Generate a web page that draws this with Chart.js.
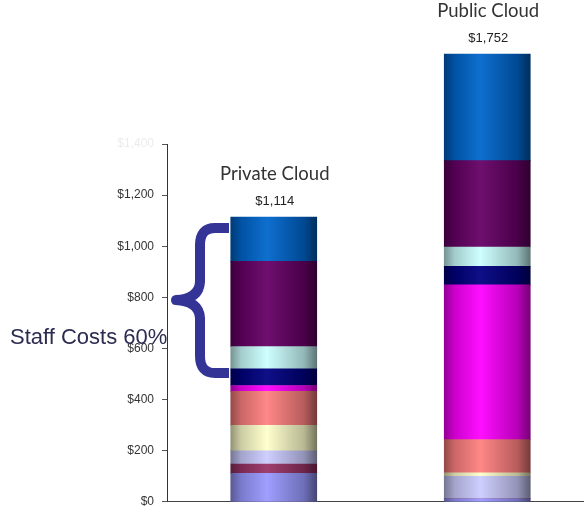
<!DOCTYPE html>
<html>
<head>
<meta charset="utf-8">
<script src="https://cdn.jsdelivr.net/npm/chart.js@4.4.1/dist/chart.umd.min.js"></script>
<style>
  html, body { margin: 0; padding: 0; background: #ffffff; overflow: hidden; }
  #wrap { width: 594px; height: 510px; overflow: hidden; }
</style>
</head>
<body>
<div id="wrap"><canvas id="c" width="594" height="517"></canvas></div>
<script>
// Cost categories per deployment model ($ per unit), stacked bottom to top
const categories = ['Private Cloud', 'Public Cloud'];

const seriesNames = [
  'Component 1', 'Component 2', 'Component 3', 'Component 4', 'Component 5',
  'Component 6', 'Staff 1', 'Staff 2', 'Staff 3', 'Staff 4'
];
const s1  = [111, 12];
const s2  = [37, 0];
const s3  = [51, 88];
const s4  = [100, 13];
const s5  = [133, 130];
const s6  = [23, 606];
const s7  = [65, 72];
const s8  = [87, 76];
const s9  = [334, 338];
const s10 = [173, 417];
const seriesValues = [s1, s2, s3, s4, s5, s6, s7, s8, s9, s10];

const seriesColors = [
  '#9999FF', '#993366', '#CCCCFF', '#FFFFCC', '#FF8080',
  '#FF00FF', '#000080', '#CCFFFF', '#660066', '#0066CC'
];

const yTicks = [0, 200, 400, 600, 800, 1000, 1200, 1400];

const BAR_W = 86;

function hexToRgb(h) {
  const n = parseInt(h.slice(1), 16);
  return [(n >> 16) & 255, (n >> 8) & 255, n & 255];
}
function shade(h, f) {
  const [r, g, b] = hexToRgb(h);
  return `rgb(${Math.round(r * f)},${Math.round(g * f)},${Math.round(b * f)})`;
}
function lift(h, f) {
  const [r, g, b] = hexToRgb(h);
  const m = v => Math.round(v + (255 - v) * f);
  return `rgb(${m(r)},${m(g)},${m(b)})`;
}

// cylinder-like horizontal shading for each bar segment
const gradCache = {};
function barFill(ctx) {
  const chart = ctx.chart;
  const base = seriesColors[ctx.datasetIndex];
  if (!chart.chartArea) return base;
  const cx = chart.scales.x.getPixelForValue(ctx.dataIndex);
  const key = ctx.datasetIndex + '_' + ctx.dataIndex + '_' + cx;
  if (gradCache[key]) return gradCache[key];
  const g = chart.ctx.createLinearGradient(cx - BAR_W / 2, 0, cx + BAR_W / 2, 0);
  g.addColorStop(0, shade(base, 0.58));
  g.addColorStop(0.12, shade(base, 0.8));
  g.addColorStop(0.42, lift(base, 0.06));
  g.addColorStop(0.85, shade(base, 0.72));
  g.addColorStop(1, shade(base, 0.46));
  gradCache[key] = g;
  return g;
}

const datasets = seriesValues.map((vals, i) => ({
  label: seriesNames[i],
  data: vals,
  backgroundColor: barFill,
  borderWidth: 0,
  barThickness: BAR_W,
  clip: false
}));

const money = v => '$' + v.toLocaleString('en-US');

// totals and category names above each stack
const stackLabels = {
  id: 'stackLabels',
  afterDatasetsDraw(chart) {
    const { ctx } = chart;
    const ys = chart.scales.y, xs = chart.scales.x;
    ctx.save();
    ctx.textAlign = 'center';
    ctx.textBaseline = 'middle';
    categories.forEach((name, i) => {
      const total = seriesValues.reduce((s, arr) => s + arr[i], 0);
      const top = ys.getPixelForValue(total);
      const x = xs.getPixelForValue(i);
      ctx.fillStyle = '#222222';
      ctx.font = '13px "Liberation Sans", Arial, sans-serif';
      ctx.fillText(money(total), x + 1, top - 16);
      ctx.fillStyle = '#333333';
      ctx.font = '18.5px Lato, "Open Sans", sans-serif';
      ctx.fillText(name, x + 1, top - 43);
    });
    ctx.restore();
  }
};

// brace and caption marking the staff cost share
const staffNote = {
  id: 'staffNote',
  afterDraw(chart) {
    const { ctx } = chart;
    ctx.save();
    ctx.strokeStyle = '#343497';
    ctx.lineWidth = 10;
    ctx.lineCap = 'butt';
    ctx.lineJoin = 'round';
    ctx.beginPath();
    ctx.moveTo(229, 228);
    ctx.lineTo(215, 228);
    ctx.quadraticCurveTo(200, 228, 200, 245);
    ctx.lineTo(200, 282);
    ctx.quadraticCurveTo(199, 299, 176, 300);
    ctx.quadraticCurveTo(199, 301, 200, 318);
    ctx.lineTo(200, 356);
    ctx.quadraticCurveTo(200, 373, 215, 373);
    ctx.lineTo(229, 373);
    ctx.stroke();
    ctx.fillStyle = '#2c2c52';
    ctx.font = '22px "Liberation Sans", Arial, sans-serif';
    ctx.textAlign = 'left';
    ctx.textBaseline = 'middle';
    ctx.fillText('Staff Costs 60%', 10, 338);
    ctx.restore();
  }
};

new Chart(document.getElementById('c'), {
  type: 'bar',
  data: { labels: categories, datasets },
  options: {
    responsive: false,
    animation: false,
    devicePixelRatio: 1,
    layout: { padding: { top: 144, left: 0, right: 0, bottom: 0 } },
    plugins: {
      legend: { display: false },
      tooltip: { enabled: false },
      title: { display: false }
    },
    scales: {
      x: {
        stacked: true,
        ticks: { display: false },
        grid: { display: false, drawTicks: false },
        border: { display: true, color: '#444444', width: 1 },
        afterFit(scale) { scale.height = 3; }
      },
      y: {
        stacked: true,
        min: 0,
        max: 1400,
        afterBuildTicks(scale) { scale.ticks = yTicks.map(v => ({ value: v })); },
        ticks: {
          padding: 8,
          color: ctx => (ctx.tick && ctx.tick.value === 1400 ? '#ececec' : '#333333'),
          font: { family: '"Liberation Sans", Arial, sans-serif', size: 12 },
          callback: v => money(v)
        },
        grid: {
          display: true,
          drawOnChartArea: false,
          drawTicks: true,
          tickLength: 5,
          color: '#555555'
        },
        border: { display: true, color: '#333333', width: 1 },
        afterFit(scale) { scale.width = 167; }
      }
    }
  },
  plugins: [stackLabels, staffNote]
});
</script>
</body>
</html>
